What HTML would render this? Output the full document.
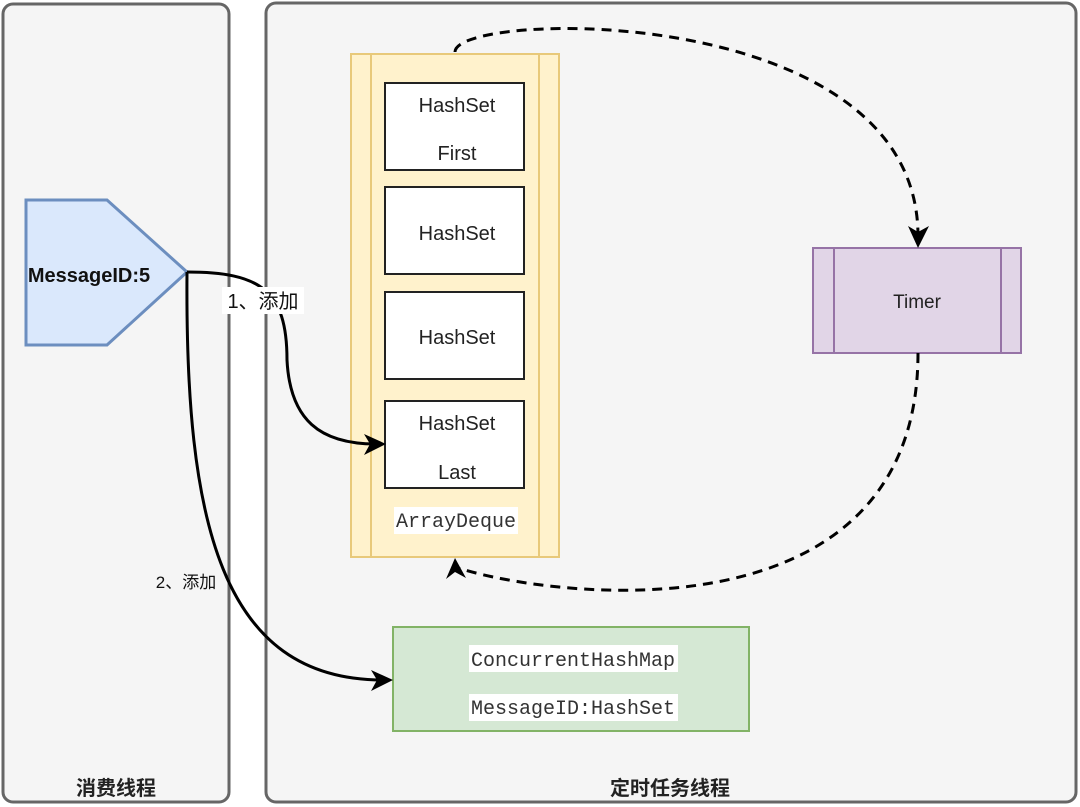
<!DOCTYPE html>
<html><head><meta charset="utf-8"><style>
body{margin:0;background:#fff}
svg{display:block}
.l{font-family:"Liberation Sans","Noto Sans CJK SC",sans-serif}
.m{font-family:"Liberation Mono","Noto Serif CJK SC",monospace}
</style></head><body>
<svg width="1080" height="807" viewBox="0 0 1080 807" xmlns="http://www.w3.org/2000/svg">
<rect x="3" y="4" width="226" height="798" rx="10" fill="#f5f5f5" stroke="#666" stroke-width="3"/>
<rect x="266" y="3" width="810" height="799" rx="10" fill="#f5f5f5" stroke="#666" stroke-width="3"/>
<text x="116" y="795" class="l" font-size="20" font-weight="bold" text-anchor="middle" fill="#222">消费线程</text>
<text x="670" y="795" class="l" font-size="20" font-weight="bold" text-anchor="middle" fill="#222">定时任务线程</text>

<rect x="351" y="54" width="208" height="503" fill="#fff2cc" stroke="#e8c97a" stroke-width="2"/>
<line x1="371" y1="54" x2="371" y2="557" stroke="#e8c97a" stroke-width="2"/>
<line x1="539" y1="54" x2="539" y2="557" stroke="#e8c97a" stroke-width="2"/>
<g fill="#fff" stroke="#222" stroke-width="2">
<rect x="385" y="83" width="139" height="87"/>
<rect x="385" y="187" width="139" height="87"/>
<rect x="385" y="292" width="139" height="87"/>
<rect x="385" y="401" width="139" height="87"/>
</g>
<g class="l" font-size="20" fill="#222" text-anchor="middle">
<text x="457" y="112">HashSet</text><text x="457" y="160">First</text>
<text x="457" y="240">HashSet</text>
<text x="457" y="344">HashSet</text>
<text x="457" y="430">HashSet</text><text x="457" y="479">Last</text>
</g>
<rect x="394" y="507" width="124" height="27" fill="#fff"/>
<text x="456" y="527" class="m" font-size="20" fill="#333" text-anchor="middle">ArrayDeque</text>

<rect x="813" y="248" width="208" height="105" fill="#e1d5e7" stroke="#9673a6" stroke-width="2"/>
<line x1="834" y1="248" x2="834" y2="353" stroke="#9673a6" stroke-width="2"/>
<line x1="1001" y1="248" x2="1001" y2="353" stroke="#9673a6" stroke-width="2"/>
<text x="917" y="308" class="l" font-size="19" fill="#222" text-anchor="middle">Timer</text>

<rect x="393" y="627" width="356" height="104" fill="#d5e8d4" stroke="#82b366" stroke-width="2"/>
<rect x="469" y="645" width="209" height="27" fill="#fff"/>
<rect x="469" y="694" width="209" height="27" fill="#fff"/>
<text x="573" y="666" class="m" font-size="20" fill="#333" text-anchor="middle">ConcurrentHashMap</text>
<text x="573" y="714" class="m" font-size="20" fill="#333" text-anchor="middle">MessageID:HashSet</text>

<polygon points="26,200 107,200 187,272 107,345 26,345" fill="#dae8fc" stroke="#6c8ebf" stroke-width="3"/>
<text x="89" y="282" class="l" font-size="20" font-weight="bold" fill="#111" text-anchor="middle">MessageID:5</text>

<path d="M187,272 C260,272 287,290 287,360 C290,420 320,444 376,444" fill="none" stroke="#000" stroke-width="3"/>
<polygon points="386,444 364,434 370,444 364,455" fill="#000"/>
<path d="M187,272 C185,520 220,680 383,680" fill="none" stroke="#000" stroke-width="3"/>
<polygon points="393,680 371,670 377,680 371,691" fill="#000"/>
<rect x="222" y="287" width="82" height="27" fill="#fff"/>
<text x="263" y="308" class="l" font-size="20" fill="#111" text-anchor="middle">1、添加</text>
<rect x="150" y="570" width="72" height="24" fill="#f5f5f5"/>
<text x="186" y="588" class="l" font-size="17" fill="#111" text-anchor="middle">2、添加</text>

<path d="M455,52 C455,10 918,0 918,236" fill="none" stroke="#000" stroke-width="3" stroke-dasharray="10,7"/>
<polygon points="918,248 908,226 918,232 929,226" fill="#000"/>
<path d="M918,353 C918,640 560,600 458,568" fill="none" stroke="#000" stroke-width="3" stroke-dasharray="10,7"/>
<polygon points="455,558 446,579 455,572 466,578" fill="#000"/>
</svg>
</body></html>
